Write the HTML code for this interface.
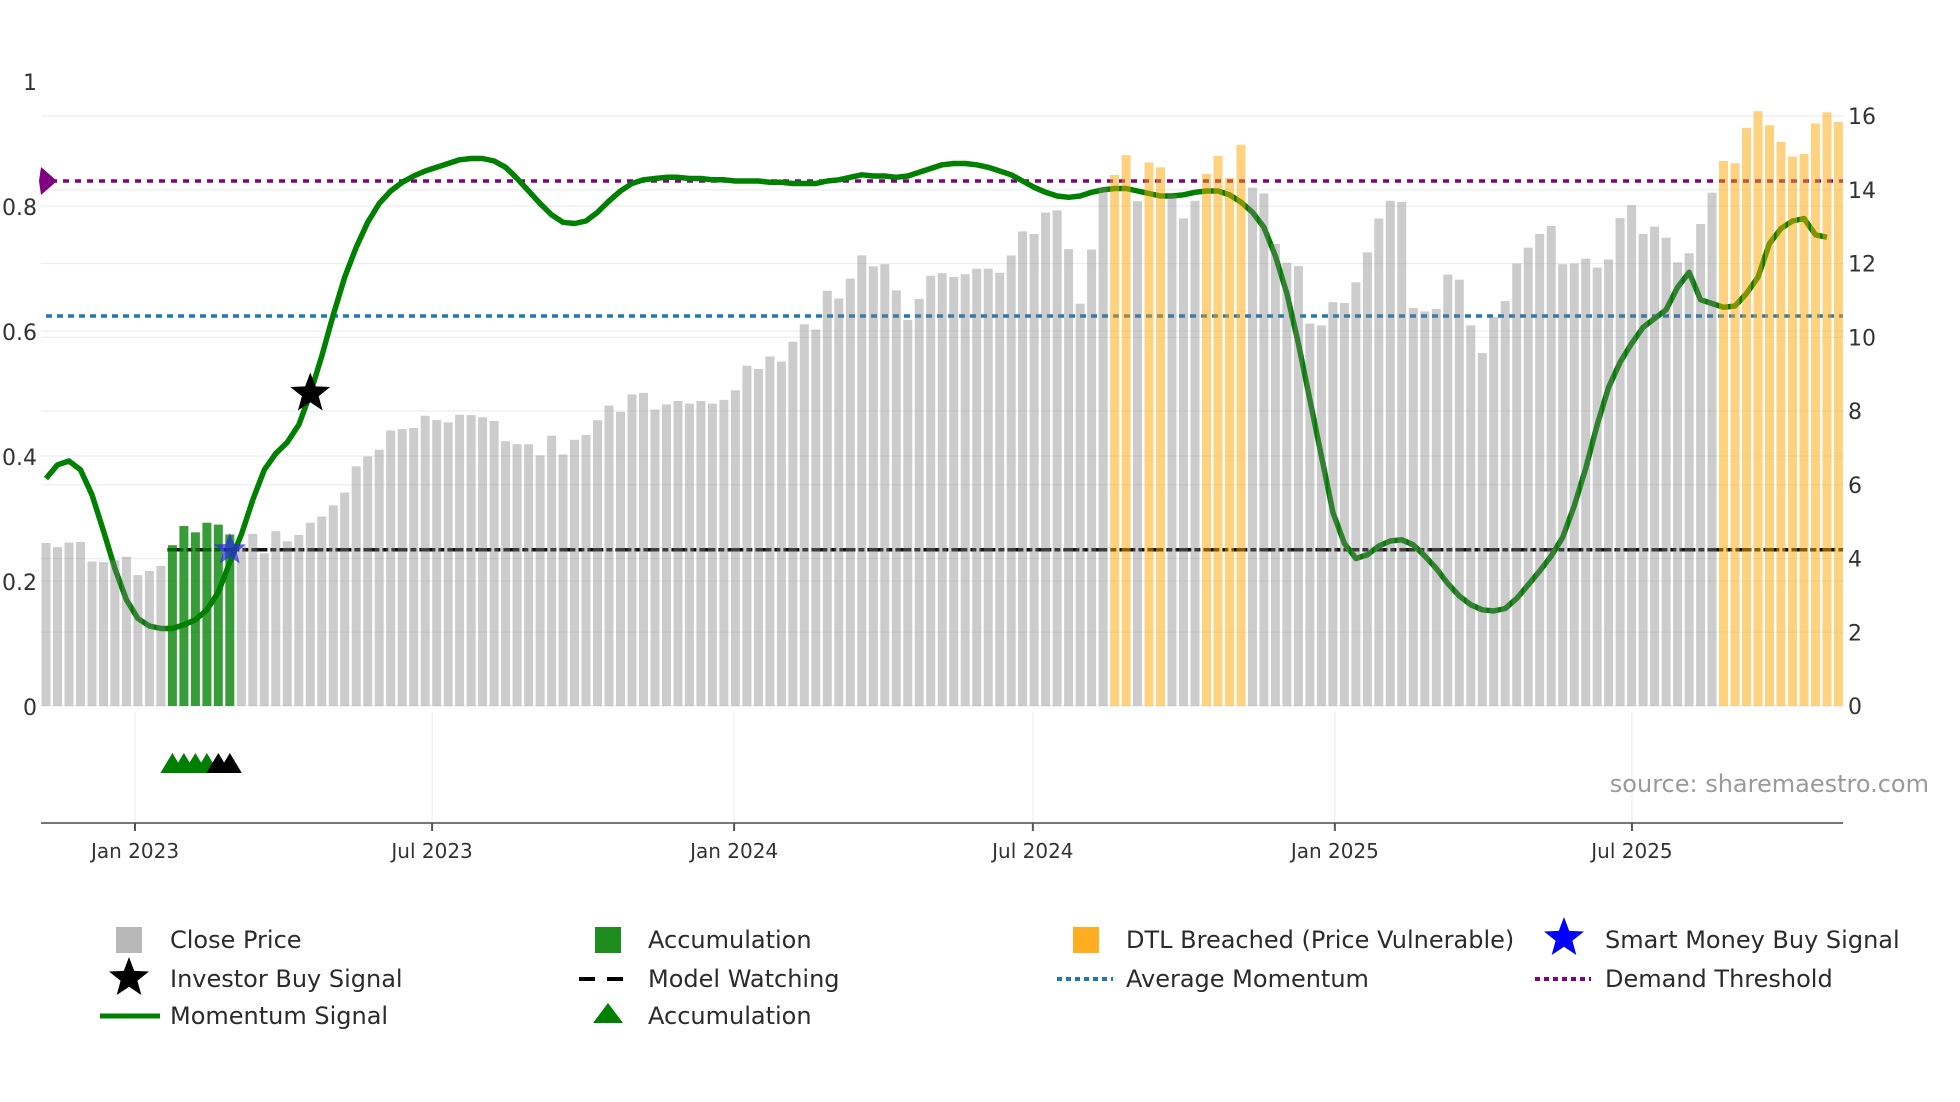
<!DOCTYPE html>
<html><head><meta charset="utf-8">
<style>
html,body{margin:0;padding:0;background:#fff;}
svg{display:block;font-family:"DejaVu Sans","Liberation Sans",sans-serif;}
</style></head>
<body>
<svg id="chart" width="1960" height="1102" viewBox="0 0 1960 1102" xmlns="http://www.w3.org/2000/svg">
<rect x="0" y="0" width="1960" height="1102" fill="#ffffff"/>
<g id="grid"></g>
<g id="lines"></g>
<g id="momentum"></g>
<g id="bars"></g>
<g id="marks"></g>
<g id="axes"></g>
<text x="1929" y="792" text-anchor="end" font-size="24" fill="#9a9a9a">source: sharemaestro.com</text>
<g id="legend"></g>
</svg>
<script>
// ---- data ----
const closePrice = [4.42,4.31,4.43,4.45,3.92,3.90,3.95,4.05,3.55,3.66,3.80,
4.36,4.88,4.71,4.97,4.92,4.65,
4.35,4.67,4.14,4.74,4.47,4.64,4.97,5.14,5.44,5.79,
6.5,6.77,6.95,7.47,7.51,7.54,7.87,7.76,7.69,7.9,7.89,7.83,7.73,7.18,7.1,7.1,6.8,7.33,6.82,7.22,7.35,7.75,8.15,7.98,8.45,8.49,
8.04,8.18,8.27,8.2,8.27,8.2,8.3,8.56,9.23,9.14,9.48,9.34,9.88,10.35,10.21,11.26,11.05,11.59,12.22,11.92,11.98,11.27,10.47,11.04,11.67,11.74,11.64,11.71,11.86,11.86,11.75,12.22,12.87,12.8,13.38,13.44,12.39,10.91,12.38,14.06,
14.4,14.94,13.69,14.74,14.61,13.87,13.22,13.7,14.43,14.92,14.32,15.22,14.06,13.9,12.53,12.02,11.93,10.37,10.32,10.95,10.93,
11.49,12.3,13.22,13.7,13.67,10.79,10.7,10.77,11.7,11.56,10.32,9.57,10.55,10.98,12.0,12.43,12.8,13.02,11.98,12.0,12.13,11.89,12.11,13.23,13.58,12.8,13.0,12.7,12.03,12.28,13.07,13.92,
14.78,14.72,15.68,16.13,15.75,15.3,14.9,14.97,15.8,16.1,15.84];
// bar state: 0 normal, 1 accumulation, 2 DTL breached
const barState = [0,0,0,0,0,0,0,0,0,0,0, 1,1,1,1,1,1, 0,0,0,0,0,0,0,0,0,0,
0,0,0,0,0,0,0,0,0,0,0,0,0,0,0,0,0,0,0,0,0,0,0,0,0,0,
0,0,0,0,0,0,0,0,0,0,0,0,0,0,0,0,0,0,0,0,0,0,0,0,0,0,0,0,0,0,0,0,0,0,0,0,0,0,0,0,
2,2,0,2,2,0,0,0,2,2,2,2,0,0,0,0,0,0,0,0,0,
0,0,0,0,0,0,0,0,0,0,0,0,0,0,0,0,0,0,0,0,0,0,0,0,0,0,0,0,0,0,0,0,
2,2,2,2,2,2,2,2,2,2,2];
const momentum = [0.364,0.386,0.392,0.378,0.338,0.28,0.22,0.17,0.14,0.128,0.124,0.124,0.13,0.138,0.154,0.182,0.23,0.274,0.33,0.378,0.404,0.422,0.45,0.50,0.56,0.626,0.686,0.734,0.774,0.804,0.824,0.838,0.848,0.856,0.862,0.868,0.874,0.876,0.876,0.872,0.862,0.844,0.824,0.804,0.786,0.774,0.772,0.776,0.79,0.808,0.824,0.836,0.842,0.844,0.846,0.846,
0.844,0.844,0.842,0.842,0.84,0.84,0.84,0.838,0.838,0.836,0.836,0.836,0.84,0.842,0.846,0.85,0.848,0.848,0.846,0.848,0.854,0.86,0.866,0.868,0.868,0.866,0.862,0.856,0.85,0.84,0.83,0.822,0.816,
0.814,0.816,0.822,0.826,0.828,0.828,0.824,0.82,0.816,0.816,0.818,0.822,0.824,0.824,0.818,0.806,0.79,0.766,0.72,0.66,0.58,0.49,0.40,0.31,0.26,0.236,0.242,0.256,0.264,0.266,0.258,0.24,0.22,0.196,0.176,0.162,0.154,0.152,0.156,0.172,0.194,0.216,0.24,0.27,0.32,0.38,0.45,0.51,0.55,0.58,0.606,0.62,0.634,0.67,0.694,0.65,0.644,0.638,0.64,0.66,0.686,0.74,0.764,0.776,0.78,0.754,0.75];
const demandThreshold = 0.84;
const avgMomentum = 0.624;
const modelWatching = 0.25;
const modelStartIndex = 11;
const investorBuyIndex = 23, investorBuyValue = 0.5;
const smartMoneyIndex = 16;
const accumIdx = [11,12,13,14];
const accumBlackIdx = [15,16];
const leftTicks = [0,0.2,0.4,0.6,0.8,1];
const leftTickLabels = ["0","0.2","0.4","0.6","0.8","1"];
const rightTicks = [0,2,4,6,8,10,12,14,16];
const dateTicks = ["2023-01-01","2023-07-01","2024-01-01","2024-07-01","2025-01-01","2025-07-01"];
const dateTickLabels = ["Jan 2023","Jul 2023","Jan 2024","Jul 2024","Jan 2025","Jul 2025"];

// ---- scales ----
const NS="http://www.w3.org/2000/svg";
const X0=46, STEP=11.49, BASE=706;
const xBar = i => X0 + i*STEP;
const yL = v => BASE - v*625;
const yR = v => BASE - v*36.875;
const D0 = Date.parse("2023-01-01"), PXD = 1.6414;
const xDate = s => 135 + (Date.parse(s)-D0)/86400000*PXD;
const XL=41, XR=1843;
function mk(tag, attrs, parent){const e=document.createElementNS(NS,tag);for(const k in attrs)e.setAttribute(k,attrs[k]);parent.appendChild(e);return e;}
function star(cx,cy,r){let p=[];for(let k=0;k<10;k++){const a=-Math.PI/2+k*Math.PI/5;const rr=k%2?r*0.42:r;p.push((cx+rr*Math.cos(a)).toFixed(1)+","+(cy+rr*Math.sin(a)).toFixed(1));}return p.join(" ");}

// grid
const grid=document.getElementById('grid');
rightTicks.forEach(v=>{const l=mk('line',{x1:XL,x2:XR,y1:yR(v),y2:yR(v),stroke:'#ebeef3','stroke-width':1.3},grid);

});
leftTicks.slice(1,5).forEach(v=>{const l=mk('line',{x1:XL,x2:XR,y1:yL(v),y2:yL(v),stroke:'#ebeef3','stroke-width':1.3},grid);

});
dateTicks.forEach(d=>{const l=mk('line',{x1:xDate(d),x2:xDate(d),y1:712,y2:823,stroke:'#eef0f4','stroke-width':1.3},grid);

});

// reference lines
const lines=document.getElementById('lines');
let l1=mk('line',{x1:XL+10,x2:XR,y1:yL(demandThreshold),y2:yL(demandThreshold),stroke:'#800080','stroke-width':3.5,'stroke-dasharray':'6 6'},lines);


let mkp=mk('polygon',{points:`${XL},${yL(demandThreshold)-14} ${XL+16},${yL(demandThreshold)} ${XL},${yL(demandThreshold)+14} ${XL-2},${yL(demandThreshold)}`,fill:'#800080'},lines);


let l2=mk('line',{x1:XL+5,x2:XR,y1:yL(avgMomentum),y2:yL(avgMomentum),stroke:'#1f77b4','stroke-width':3.5,'stroke-dasharray':'6 5'},lines);


let l3=mk('line',{x1:xBar(modelStartIndex)-5,x2:XR,y1:yL(modelWatching),y2:yL(modelWatching),stroke:'#111','stroke-width':3.5,'stroke-dasharray':'16 3 6 3'},lines);



// momentum line
const mg=document.getElementById('momentum');
let pts=momentum.map((v,i)=>xBar(i).toFixed(1)+","+yL(v).toFixed(1)).join(" ");
let ml=mk('polyline',{points:pts,fill:'none',stroke:'#008000','stroke-width':5.5,'stroke-linejoin':'round'},mg);



// bars
const bg=document.getElementById('bars');
const cols=['rgba(128,128,128,0.4)','rgba(0,128,0,0.78)','rgba(255,165,0,0.5)'];
closePrice.forEach((v,i)=>{const b=mk('rect',{x:(xBar(i)-4.5).toFixed(1),y:yR(v).toFixed(1),width:9,height:(BASE-yR(v)).toFixed(1),fill:cols[barState[i]]},bg);

});

// markers
const mg2=document.getElementById('marks');
let s1=mk('polygon',{points:star(xBar(investorBuyIndex),yL(investorBuyValue),21),fill:'#000'},mg2);


let s2=mk('polygon',{points:star(xBar(smartMoneyIndex),yL(modelWatching),17),fill:'rgba(40,40,230,0.7)'},mg2);


accumIdx.forEach(i=>{const t=mk('polygon',{points:`${xBar(i)-12},773 ${xBar(i)},753 ${xBar(i)+12},773`,fill:'#008000'},mg2);

});
accumBlackIdx.forEach(i=>{const t=mk('polygon',{points:`${xBar(i)-12},773 ${xBar(i)},753 ${xBar(i)+12},773`,fill:'#000'},mg2);

});

// axes
const ax=document.getElementById('axes');
let xa=mk('line',{x1:XL,x2:XR,y1:823,y2:823,stroke:'#777','stroke-width':2},ax);


dateTicks.forEach((d,k)=>{
 const tk=mk('line',{x1:xDate(d),x2:xDate(d),y1:823,y2:831,stroke:'#555','stroke-width':2},ax);
 
 
 const t=mk('text',{x:xDate(d),y:858,'text-anchor':'middle','font-size':20,fill:'#333'},ax);t.textContent=dateTickLabels[k];
 
 });
leftTicks.forEach((v,k)=>{const t=mk('text',{x:37,y:yL(v)+9,'text-anchor':'end','font-size':22,fill:'#333'},ax);t.textContent=leftTickLabels[k];
 
 });
rightTicks.forEach(v=>{const t=mk('text',{x:1848,y:yR(v)+8,'font-size':22,fill:'#333'},ax);t.textContent=String(v);
 
 });

// legend
const lg=document.getElementById('legend');
const cx=[129,608,1086,1564], tx=[170,648,1126,1605], ry=[940,979,1016];
function ltext(c,r,s){const t=mk('text',{x:tx[c],y:ry[r]+8,'font-size':24,fill:'#2b2b2b'},lg);t.textContent=s;
 
 }
function sq(c,r,col,name){const e=mk('rect',{x:cx[c]-13,y:ry[r]-13,width:26,height:26,fill:col},lg);
 
 }
sq(0,0,'#b8b8b8','legend-close-price-swatch');ltext(0,0,'Close Price');
sq(1,0,'#1e8c1e','legend-accumulation-swatch');ltext(1,0,'Accumulation');
sq(2,0,'#ffae22','legend-dtl-swatch');ltext(2,0,'DTL Breached (Price Vulnerable)');
let ls1=mk('polygon',{points:star(cx[3],ry[0]-2,21),fill:'#0000ff'},lg);


ltext(3,0,'Smart Money Buy Signal');
let ls2=mk('polygon',{points:star(cx[0],ry[1]-1,21),fill:'#000'},lg);


ltext(0,1,'Investor Buy Signal');
let lm=mk('line',{x1:cx[1]-29,x2:cx[1]+27,y1:ry[1],y2:ry[1],stroke:'#000','stroke-width':4,'stroke-dasharray':'16 12'},lg);


ltext(1,1,'Model Watching');
let la=mk('line',{x1:cx[2]-29,x2:cx[2]+27,y1:ry[1],y2:ry[1],stroke:'#1f77b4','stroke-width':4,'stroke-dasharray':'5 4'},lg);


ltext(2,1,'Average Momentum');
let ld=mk('line',{x1:cx[3]-29,x2:cx[3]+27,y1:ry[1],y2:ry[1],stroke:'#800080','stroke-width':4,'stroke-dasharray':'5 4'},lg);


ltext(3,1,'Demand Threshold');
let lmo=mk('line',{x1:cx[0]-29,x2:cx[0]+31,y1:ry[2],y2:ry[2],stroke:'#008000','stroke-width':5},lg);


ltext(0,2,'Momentum Signal');
let lt=mk('polygon',{points:`${cx[1]-15},${ry[2]+7} ${cx[1]},${ry[2]-13} ${cx[1]+15},${ry[2]+7}`,fill:'#008000'},lg);


ltext(1,2,'Accumulation');
</script>
</body></html>
